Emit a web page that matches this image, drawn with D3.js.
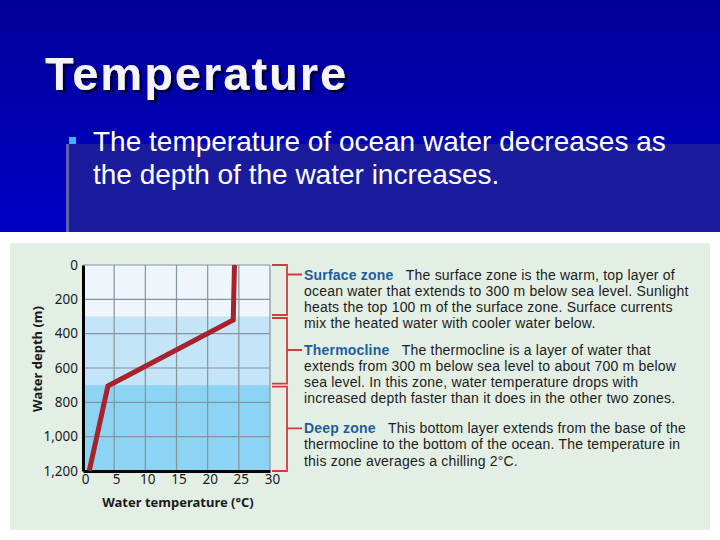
<!DOCTYPE html>
<html>
<head>
<meta charset="utf-8">
<script src="https://cdn.jsdelivr.net/npm/d3@7"></script>
<style>
  html, body { margin: 0; padding: 0; background: #ffffff; }
  svg { display: block; }
</style>
</head>
<body>
<svg id="chart" width="720" height="540"></svg>
<script>
// ---------- data ----------
const slideTitle = "Temperature";
const bulletLines = ["The temperature of ocean water decreases as", "the depth of the water increases."];

const profileTemps = [24.3, 24.1, 4.0, 1.0];      // °C
const profileDepths = [0, 320, 705, 1200];        // m

const zoneNames = ["Surface zone", "Thermocline", "Deep zone"];
const zoneTops = [0, 300, 700];
const zoneBottoms = [300, 700, 1200];
const zoneTexts = [
  ["The surface zone is the warm, top layer of",
   "ocean water that extends to 300 m below sea level. Sunlight",
   "heats the top 100 m of the surface zone. Surface currents",
   "mix the heated water with cooler water below."],
  ["The thermocline is a layer of water that",
   "extends from 300 m below sea level to about 700 m below",
   "sea level. In this zone, water temperature drops with",
   "increased depth faster than it does in the other two zones."],
  ["This bottom layer extends from the base of the",
   "thermocline to the bottom of the ocean. The temperature in",
   "this zone averages a chilling 2°C."]
];

const xTicks = [0, 5, 10, 15, 20, 25, 30];
const yTicks = [0, 200, 400, 600, 800, 1000, 1200];
const xTitle = "Water temperature (°C)";
const yTitle = "Water depth (m)";

// ---------- styles ----------
const zoneFills = ["#eef6fc", "#c4e5f8", "#8dd3f3"];
const chartFont = "'Noto Sans', 'Open Sans', sans-serif";
const bodyFont = "'Liberation Sans', Arial, sans-serif";
const bodySize = 14;

const svg = d3.select("#chart");

// ---------- slide background ----------
const defs = svg.append("defs");
const grad = defs.append("linearGradient").attr("id", "bg").attr("x1", 0).attr("y1", 0).attr("x2", 0).attr("y2", 1);
grad.append("stop").attr("offset", "0%").attr("stop-color", "#000098");
grad.append("stop").attr("offset", "100%").attr("stop-color", "#0000c6");
const shadow = defs.append("filter").attr("id", "shadow").attr("x", "-5%").attr("y", "-10%").attr("width", "115%").attr("height", "130%");
shadow.append("feDropShadow").attr("dx", 3).attr("dy", 3).attr("stdDeviation", 0.6)
  .attr("flood-color", "#000045").attr("flood-opacity", 1);

svg.append("rect").attr("x", 0).attr("y", 0).attr("width", 720).attr("height", 232).attr("fill", "url(#bg)");
svg.append("rect").attr("x", 69).attr("y", 144).attr("width", 651).attr("height", 88).attr("fill", "#1b1b9e");
svg.append("line").attr("x1", 67.5).attr("x2", 67.5).attr("y1", 144).attr("y2", 232)
  .attr("stroke", "#5f5fae").attr("stroke-width", 3);

// title with shadow
svg.append("text").attr("x", 45).attr("y", 90).text(slideTitle)
  .attr("font-family", "'Liberation Sans', Arial, sans-serif").attr("font-weight", "bold")
  .attr("font-size", 47).attr("letter-spacing", 2).attr("fill", "#f4f4fa")
  .attr("filter", "url(#shadow)");

// bullet
svg.append("rect").attr("x", 69).attr("y", 137).attr("width", 7).attr("height", 7).attr("fill", "#3cb4f4");
bulletLines.forEach((t, i) => {
  svg.append("text").attr("x", 93).attr("y", 151 + i * 33).text(t)
    .attr("font-family", "'Liberation Sans', Arial, sans-serif").attr("font-size", 28).attr("fill", "#ffffff");
});

// ---------- chart panel ----------
svg.append("rect").attr("x", 10).attr("y", 243).attr("width", 700).attr("height", 287).attr("fill", "#e3efe5");

const x = d3.scaleLinear().domain([0, 30]).range([83, 270]);
const y = d3.scaleLinear().domain([0, 1200]).range([265, 471]);

const g = svg.append("g");

// zone bands
g.selectAll("rect.zone").data(zoneTops).enter().append("rect")
  .attr("class", "zone")
  .attr("x", x(0)).attr("width", x(30) - x(0))
  .attr("y", d => y(d)).attr("height", (d, i) => y(zoneBottoms[i]) - y(d))
  .attr("fill", (d, i) => zoneFills[i]);

// gridlines
g.selectAll("line.vg").data(xTicks.slice(1)).enter().append("line")
  .attr("x1", d => x(d)).attr("x2", d => x(d)).attr("y1", y(0)).attr("y2", y(1200))
  .attr("stroke", "#84939c").attr("stroke-width", 1.2);
g.selectAll("line.hg").data(yTicks.slice(0, -1)).enter().append("line")
  .attr("x1", x(0)).attr("x2", x(30)).attr("y1", d => y(d)).attr("y2", d => y(d))
  .attr("stroke", "#84939c").attr("stroke-width", 1.2);

// axes
const xAxis = d3.axisBottom(x).tickValues(xTicks).tickSize(0).tickPadding(3).tickFormat(d3.format("d"));
const yAxis = d3.axisLeft(y).tickValues(yTicks).tickSize(0).tickPadding(5).tickFormat(d3.format(","));
const gx = g.append("g").attr("transform", `translate(0,${y(1200)})`).call(xAxis);
const gy = g.append("g").attr("transform", `translate(${x(0)},0)`).call(yAxis);
[gx, gy].forEach(a => {
  a.select(".domain").attr("stroke", "#000").attr("stroke-width", 3);
  a.selectAll("text").attr("font-family", chartFont).attr("font-size", 13.5).attr("fill", "#1a1a1a");
});
gx.selectAll(".tick text").attr("dx", 2);

g.append("text").attr("x", 178).attr("y", 507).attr("text-anchor", "middle").text(xTitle)
  .attr("font-family", chartFont).attr("font-weight", "bold").attr("font-size", 13).attr("fill", "#1a1a1a");
g.append("text").attr("transform", `translate(42,359) rotate(-90)`).attr("text-anchor", "middle").text(yTitle)
  .attr("font-family", chartFont).attr("font-weight", "bold").attr("font-size", 13).attr("fill", "#1a1a1a");

// profile line
const line = d3.line().x(d => x(d[0])).y(d => y(d[1]));
g.append("path").datum(profileTemps.map((t, i) => [t, profileDepths[i]]))
  .attr("d", line).attr("fill", "none").attr("stroke", "#a7222a").attr("stroke-width", 5)
  .attr("stroke-linejoin", "miter");

// brackets + zone descriptions
const bx0 = 272, bx1 = 287, bx2 = 302;
const labelCenters = [274.5, 350, 428.3];
const lineStep = 16.1;
zoneTops.forEach((top, i) => {
  const y0 = y(top) + (i === 0 ? 0 : 1.5);
  const y1 = y(zoneBottoms[i]) - (i === 2 ? 0 : 1.5);
  g.append("path")
    .attr("d", `M${bx0},${y0}H${bx1}V${y1}H${bx0}M${bx1},${labelCenters[i]}H${bx2}`)
    .attr("fill", "none").attr("stroke", "#d23a3e").attr("stroke-width", 1.8);
  const block = g.append("text").attr("x", 304).attr("y", labelCenters[i] + 5)
    .attr("font-family", bodyFont).attr("font-size", bodySize).attr("letter-spacing", 0.2)
    .attr("fill", "#1c1c1c");
  block.append("tspan").text(zoneNames[i]).attr("font-weight", "bold").attr("fill", "#1d5d9e");
  block.append("tspan").text("\u00a0\u00a0\u00a0" + zoneTexts[i][0]);
  zoneTexts[i].slice(1).forEach(ln => {
    block.append("tspan").attr("x", 304).attr("dy", lineStep).text(ln);
  });
});
</script>
</body>
</html>
